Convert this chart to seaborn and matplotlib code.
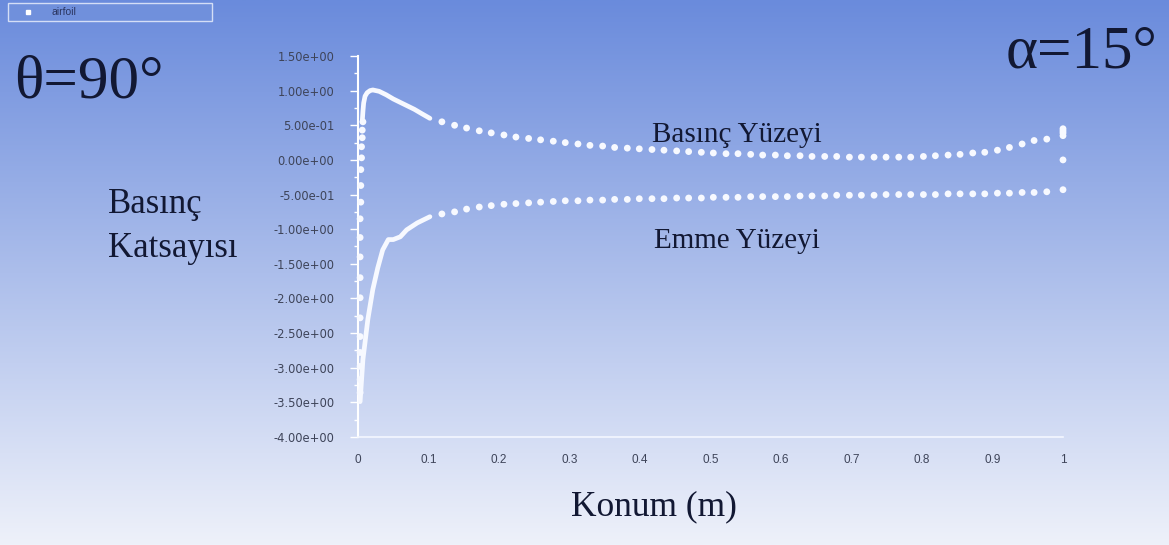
import numpy as np
import pandas as pd
import matplotlib
matplotlib.use('Agg')
import matplotlib.pyplot as plt
import seaborn as sns
from matplotlib.colors import LinearSegmentedColormap
from matplotlib.patches import Rectangle
from matplotlib.lines import Line2D
from matplotlib.ticker import AutoMinorLocator

# --- DATA ---
# dense part near the leading edge (drawn as a solid white curve)
x_upper_le = [0.006, 0.007, 0.008, 0.010, 0.013, 0.017, 0.021, 0.030, 0.040,
              0.050, 0.060, 0.070, 0.080, 0.090, 0.102]
cp_upper_le = [0.55, 0.70, 0.82, 0.92, 0.97, 1.00, 1.01, 0.99, 0.94,
               0.88, 0.83, 0.78, 0.73, 0.67, 0.60]

x_lower_le = [0.003, 0.007, 0.014, 0.021, 0.028, 0.035, 0.043, 0.050, 0.060,
              0.069, 0.084, 0.102]
cp_lower_le = [-3.49, -2.88, -2.30, -1.87, -1.56, -1.30, -1.15, -1.15, -1.11,
               -1.01, -0.91, -0.82]

# isolated points around the leading edge
x_nose = [0.007, 0.006, 0.006, 0.005, 0.005, 0.004, 0.004, 0.004, 0.003, 0.003,
          0.003, 0.003, 0.003, 0.003, 0.003, 0.003, 0.003, 0.003, 0.003]
cp_nose = [0.55, 0.43, 0.32, 0.19, 0.03, -0.14, -0.37, -0.61, -0.85, -1.12,
           -1.40, -1.70, -1.99, -2.28, -2.55, -2.78, -2.98, -3.17, -3.36]

# coarse points over the rest of the chord
x_chord = [0.119, 0.137, 0.154, 0.172, 0.189, 0.207, 0.224, 0.242, 0.259, 0.277,
           0.294, 0.312, 0.329, 0.347, 0.364, 0.382, 0.399, 0.417, 0.434, 0.452,
           0.469, 0.487, 0.504, 0.522, 0.539, 0.557, 0.574, 0.592, 0.609, 0.627,
           0.644, 0.662, 0.679, 0.697, 0.714, 0.732, 0.749, 0.767, 0.784, 0.802,
           0.819, 0.837, 0.854, 0.872, 0.889, 0.907, 0.924, 0.942, 0.959, 0.977,
           1.000]
cp_pressure = [0.55, 0.50, 0.46, 0.42, 0.39, 0.36, 0.33, 0.31, 0.29, 0.27,
               0.25, 0.23, 0.21, 0.20, 0.18, 0.17, 0.16, 0.15, 0.14, 0.13,
               0.12, 0.11, 0.10, 0.09, 0.09, 0.08, 0.07, 0.07, 0.06, 0.06,
               0.05, 0.05, 0.05, 0.04, 0.04, 0.04, 0.04, 0.04, 0.04, 0.05,
               0.06, 0.07, 0.08, 0.10, 0.11, 0.14, 0.18, 0.23, 0.28, 0.30,
               0.35]
cp_suction = [-0.78, -0.75, -0.71, -0.68, -0.66, -0.64, -0.63, -0.62, -0.61, -0.60,
              -0.59, -0.59, -0.58, -0.58, -0.57, -0.57, -0.56, -0.56, -0.56, -0.55,
              -0.55, -0.55, -0.54, -0.54, -0.54, -0.53, -0.53, -0.53, -0.53, -0.52,
              -0.52, -0.52, -0.51, -0.51, -0.51, -0.51, -0.50, -0.50, -0.50, -0.50,
              -0.50, -0.49, -0.49, -0.49, -0.49, -0.48, -0.48, -0.47, -0.47, -0.46,
              -0.43]

# trailing edge points
x_te = [1.0, 1.0, 1.0, 1.0]
cp_te = [0.39, 0.42, 0.45, 0.0]

y_ticks = [-4.0, -3.5, -3.0, -2.5, -2.0, -1.5, -1.0, -0.5, 0.0, 0.5, 1.0, 1.5]
x_ticks = [0, 0.1, 0.2, 0.3, 0.4, 0.5, 0.6, 0.7, 0.8, 0.9, 1.0]
x_tick_labels = ['0', '0.1', '0.2', '0.3', '0.4', '0.5', '0.6', '0.7', '0.8', '0.9', '1']

# --- FIGURE ---
W, H = 1169, 545
fig = plt.figure(figsize=(W / 100, H / 100), dpi=100)

# gradient background like the Fluent window
bg = fig.add_axes([0, 0, 1, 1])
cmap = LinearSegmentedColormap.from_list('fluent', ['#eef1fa', '#6a8bdc'])
bg.imshow(np.linspace(0, 1, 256).reshape(-1, 1), aspect='auto', cmap=cmap,
          extent=[0, 1, 0, 1], origin='lower')
bg.set_xlim(0, 1)
bg.set_ylim(0, 1)
bg.axis('off')

ax = fig.add_axes([358 / W, 1 - 437 / H, 705 / W, 381 / H])
ax.patch.set_alpha(0)

dot_color = '#f7f9ff'
lines = pd.DataFrame({'x': x_upper_le, 'cp': cp_upper_le})
sns.lineplot(data=lines, x='x', y='cp', sort=False, estimator=None, ax=ax,
             color=dot_color, lw=3.4, solid_capstyle='round', zorder=3)
lines = pd.DataFrame({'x': x_lower_le, 'cp': cp_lower_le})
sns.lineplot(data=lines, x='x', y='cp', sort=False, estimator=None, ax=ax,
             color=dot_color, lw=3.4, solid_capstyle='round', zorder=3)

pts = pd.DataFrame({
    'x': x_nose + x_chord + x_chord + x_te,
    'cp': cp_nose + cp_pressure + cp_suction + cp_te,
})
sns.scatterplot(data=pts, x='x', y='cp', ax=ax, color=dot_color, s=24,
                marker='o', edgecolor='none', clip_on=False, zorder=4)

ax.set_xlim(0, 1)
ax.set_ylim(-4, 1.5)
ax.set_xlabel('')
ax.set_ylabel('')

ax.set_yticks(y_ticks)
ax.set_yticklabels([f'{v:.2e}' for v in y_ticks], fontfamily='DejaVu Sans',
                   fontsize=8.3, color='#3e4459')
ax.yaxis.set_minor_locator(AutoMinorLocator(2))
ax.tick_params(axis='y', which='major', length=6, width=1, color='white', pad=11)
ax.tick_params(axis='y', which='minor', length=3, width=1, color='white')

ax.set_xticks(x_ticks)
ax.set_xticklabels(x_tick_labels, fontfamily='Liberation Sans', fontsize=8.5,
                   color='#3e4459')
ax.tick_params(axis='x', length=0, pad=12)

for side in ['top', 'right']:
    ax.spines[side].set_visible(False)
ax.spines['left'].set_color('white')
ax.spines['left'].set_linewidth(1.5)
ax.spines['bottom'].set_color('#f4f7ff')
ax.spines['bottom'].set_linewidth(1.2)

# --- TEXTS ---
serif = 'Liberation Serif'
ink = '#121833'
fig.text(14 / W, 1 - 97 / H, 'θ=90°', fontfamily=serif, fontsize=44,
         color=ink, va='baseline', ha='left')
fig.text(1006 / W, 1 - 68 / H, 'α=15°', fontfamily=serif, fontsize=44,
         color=ink, va='baseline', ha='left')
fig.text(108 / W, 1 - 213 / H, 'Basınç', fontfamily=serif, fontsize=25,
         color=ink, va='baseline', ha='left')
fig.text(108 / W, 1 - 257 / H, 'Katsayısı', fontfamily=serif, fontsize=25,
         color=ink, va='baseline', ha='left')
fig.text(654 / W, 1 - 515 / H, 'Konum (m)', fontfamily=serif, fontsize=25.5,
         color=ink, va='baseline', ha='center')
fig.text(737 / W, 1 - 142 / H, 'Basınç Yüzeyi', fontfamily=serif, fontsize=21,
         color=ink, va='baseline', ha='center')
fig.text(737 / W, 1 - 248 / H, 'Emme Yüzeyi', fontfamily=serif, fontsize=21,
         color=ink, va='baseline', ha='center')

# --- LEGEND BOX (top-left) ---
fig.add_artist(Rectangle((8 / W, 1 - 21 / H), 204 / W, 18 / H,
                         transform=fig.transFigure, facecolor='#7090dc',
                         edgecolor='#d4def6', lw=1))
fig.add_artist(Line2D([28 / W], [1 - 12 / H], marker='s', markersize=3.5,
                      color='white', transform=fig.transFigure))
fig.text(52 / W, 1 - 12 / H, 'airfoil', fontfamily='Liberation Sans', fontsize=7.5,
         color='#2b3560', va='center', ha='left')

fig.savefig('out.png', dpi=100)
